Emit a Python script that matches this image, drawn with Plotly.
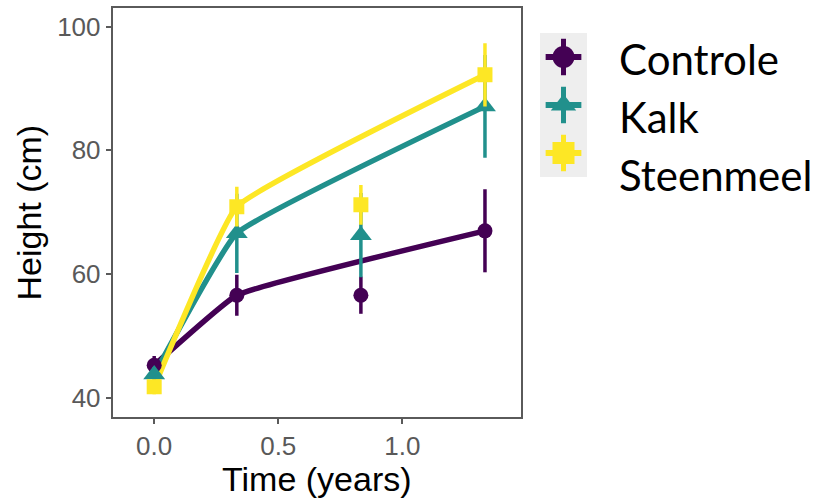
import plotly.graph_objects as go

# Measurement times (years) and group means / error half-widths (cm)
times = [0.0, 0.333, 0.833, 1.333]
groups = ["Controle", "Kalk", "Steenmeel"]

controle_mean = [45.3, 56.6, 56.6, 67.0]
controle_err = [1.5, 3.3, 3.0, 6.7]

kalk_mean = [43.8, 66.6, 66.3, 87.1]
kalk_err = [1.2, 6.4, 6.8, 8.3]

steenmeel_mean = [41.8, 70.9, 71.2, 92.2]
steenmeel_err = [1.2, 3.2, 3.2, 5.1]

# Time points joined by the trend line
trend_idx = [0, 1, 3]

x_ticks = [0.0, 0.5, 1.0]
y_ticks = [40, 60, 80, 100]

colors = ["#440154", "#21908C", "#FDE725"]
symbols = ["circle", "triangle-up", "square"]
marker_sizes = [15, 19, 15]

W, H = 828, 499
# Panel box in pixels
px_l, px_r, px_t, px_b = 112.5, 520.7, 8.0, 417.0
# Legend key box in pixels
kx_l, kx_r, ky_t, ky_b = 540.0, 587.0, 33.0, 177.0

means = [controle_mean, kalk_mean, steenmeel_mean]
errs = [controle_err, kalk_err, steenmeel_err]

fig = go.Figure()

# Trend lines
for name, m, c in zip(groups, means, colors):
    fig.add_trace(go.Scatter(
        x=[times[i] for i in trend_idx], y=[m[i] for i in trend_idx],
        mode="lines", line=dict(color=c, width=5.5, shape="spline", smoothing=0.3),
        showlegend=False, hoverinfo="skip"))

# Points with error bars
for name, m, e, c, s, ms in zip(groups, means, errs, colors, symbols, marker_sizes):
    fig.add_trace(go.Scatter(
        x=times, y=m, mode="markers", name=name,
        marker=dict(color=c, symbol=s, size=ms, line=dict(width=0)),
        error_y=dict(type="data", array=e, visible=True, color=c, thickness=3.5, width=0),
        showlegend=False))

# Legend keys (drawn on their own small axes)
for k, (name, c, s) in enumerate(zip(groups, colors, symbols)):
    fig.add_trace(go.Scatter(
        x=[0.12, 0.88], y=[k + 0.5, k + 0.5], mode="lines",
        line=dict(color=c, width=6), xaxis="x2", yaxis="y2",
        showlegend=False, hoverinfo="skip"))
    fig.add_trace(go.Scatter(
        x=[0.5], y=[k + 0.5], mode="markers",
        marker=dict(color=c, symbol=s, size=22, line=dict(width=0)),
        error_y=dict(type="constant", value=0.38, visible=True, color=c, thickness=5, width=0),
        xaxis="x2", yaxis="y2", showlegend=False, hoverinfo="skip"))

legend_text_y = [59, 117, 175]
annotations = []
for name, ty in zip(groups, legend_text_y):
    annotations.append(dict(
        text=name, x=617 / W, y=1 - ty / H, xref="paper", yref="paper",
        xanchor="left", yanchor="middle", showarrow=False,
        font=dict(family="Lato", size=42, color="#000000")))

# Axis titles
annotations.append(dict(
    text="Time (years)", x=(px_l + px_r) / 2 / W, y=1 - 479 / H,
    xref="paper", yref="paper", xanchor="center", yanchor="middle",
    showarrow=False, font=dict(family="Liberation Sans", size=34, color="#000000")))
annotations.append(dict(
    text="Height (cm)", x=28 / W, y=1 - (px_t + px_b) / 2 / H,
    xref="paper", yref="paper", xanchor="center", yanchor="middle", textangle=-90,
    showarrow=False, font=dict(family="Liberation Sans", size=34, color="#000000")))

axis_common = dict(
    showgrid=False, zeroline=False, showline=True, mirror=True,
    linecolor="#5a5a5a", linewidth=1.5, ticks="outside", ticklen=5,
    tickwidth=1.5, tickcolor="#5a5a5a",
    tickfont=dict(family="Liberation Sans", size=26, color="#595959"))

fig.update_layout(
    width=W, height=H,
    margin=dict(l=0, r=0, t=0, b=0),
    paper_bgcolor="white", plot_bgcolor="white",
    xaxis=dict(domain=[px_l / W, px_r / W], range=[-0.168, 1.477],
               tickvals=x_ticks, ticktext=[f"{v:.1f}" for v in x_ticks],
               anchor="y", **axis_common),
    yaxis=dict(domain=[1 - px_b / H, 1 - px_t / H], range=[36.93, 102.99],
               tickvals=y_ticks, anchor="x", **axis_common),
    xaxis2=dict(domain=[kx_l / W, kx_r / W], range=[0, 1], visible=False,
                fixedrange=True, anchor="y2"),
    yaxis2=dict(domain=[1 - ky_b / H, 1 - ky_t / H], range=[3, 0], visible=False,
                fixedrange=True, anchor="x2"),
    shapes=[dict(type="rect", xref="paper", yref="paper",
                 x0=kx_l / W, x1=kx_r / W, y0=1 - ky_b / H, y1=1 - ky_t / H,
                 fillcolor="#EEEEEE", line=dict(width=0), layer="below")],
    annotations=annotations,
    showlegend=False,
)

fig.write_html("out.html")
